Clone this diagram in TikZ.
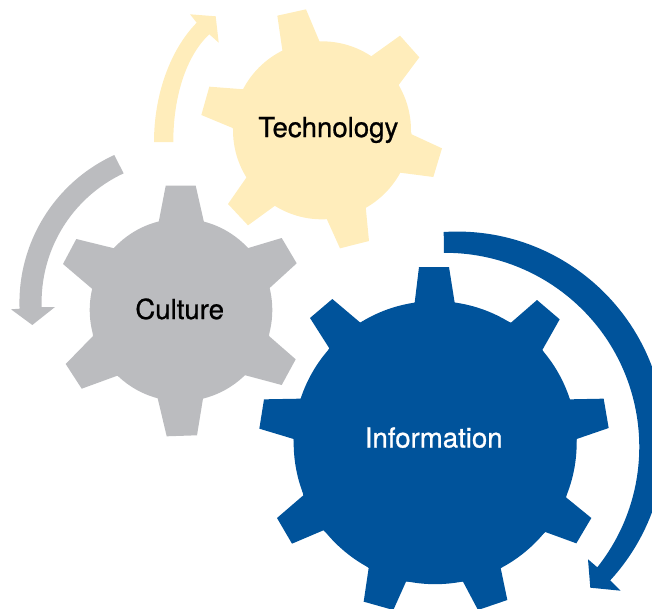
\documentclass[tikz,border=0pt]{standalone}
\usepackage{fontspec}
\setmainfont{TeX Gyre Heros}
\newfontfamily\gearfont[FakeBold=0.8]{TeX Gyre Heros}
\definecolor{gearblue}{RGB}{0,83,155}
\definecolor{gearyellow}{RGB}{255,237,187}
\definecolor{geargray}{RGB}{187,188,191}
\tikzset{
  gearlabel/.style={font=\gearfont\fontsize{27.6}{32}\selectfont, inner sep=0pt, anchor=base},
  zoomed/.style={x=0.33333pt,y=-0.33333pt}
}
\begin{document}
\begin{tikzpicture}[x=1pt,y=-1pt]
\useasboundingbox (0,0) rectangle (652,608);
\clip (0,0) rectangle (652,608);
% Technology gear
\begin{scope}[zoomed]
\fill[gearyellow] (966,391) circle[radius=89pt];
\fill[gearyellow] (848,157) -- (832,47) -- (918,28) -- (960,128)
  -- (1112,170) -- (1200,107) -- (1258,172) -- (1196,255)
  -- (1235,403) -- (1326,445) -- (1300,531) -- (1200,518)
  -- (1097,620) -- (1107,723) -- (1020,745) -- (978,652)
  -- (828,615) -- (744,676) -- (684,612) -- (741,530)
  -- (698,384) -- (604,345) -- (628,260) -- (732,268) -- cycle;
\end{scope}
% Culture gear
\fill[geargray] (181,310) circle[radius=91.3pt];
\fill[geargray] (158.3,224) -- (165.7,185.7) -- (195.7,185.7) -- (204.7,225.3)
  -- (246,248.7) -- (281.7,238) -- (296.7,263.3) -- (269.3,288.3)
  -- (269,336) -- (295.7,359.3) -- (281.7,385) -- (244.3,375)
  -- (203.3,396.7) -- (197,435.3) -- (166.7,436.3) -- (157.3,396.7)
  -- (117.3,375.7) -- (81.7,388.7) -- (65.7,364) -- (93,336)
  -- (92,288.7) -- (63,264) -- (76.3,239) -- (115.7,248.7) -- cycle;
% Information gear
\begin{scope}[shift={(250,220)},zoomed]
\fill[gearblue] (555.5,668) circle[radius=141.5pt];
\fill[gearblue] (494,248) -- (507,141) -- (597,141) -- (614,248)
  -- (783,308) -- (861,240) -- (929,298) -- (877,390)
  -- (959,538) -- (1061,536) -- (1076,624) -- (980,657)
  -- (948,832) -- (1024,894) -- (979,970) -- (886,936)
  -- (752,1044) -- (772,1140) -- (684,1170) -- (639,1085)
  -- (468,1085) -- (430,1170) -- (341,1145) -- (356,1044)
  -- (220,931) -- (126,971) -- (81,894) -- (160,826)
  -- (131,657) -- (28,626) -- (42,538) -- (152,536)
  -- (238,385) -- (180,294) -- (247,237) -- (331,308) -- cycle;
\end{scope}
% Arrows
\fill[gearyellow] (154,142) .. controls (154,95) and (170,50) .. (196.7,22.7)
  -- (190,14.3) -- (215.7,16.3) -- (218.7,42.7) -- (209.3,34.3)
  .. controls (187,55) and (173.3,95) .. (173.3,142) -- cycle;
\fill[geargray] (114.3,155) arc[start angle=114.6,end angle=182.1,radius=162.5pt]
  -- (11,309.3) -- (32.3,325) -- (55,307) -- (41.7,307)
  arc[start angle=182,end angle=115,radius=142pt] -- cycle;
\fill[gearblue] (443.7,232) arc[start angle=93.7,end angle=-42.7,radius=208pt]
  -- (611,581) -- (620.7,590.7) -- (590.3,587.7) -- (588,559.3) -- (597.3,567.3)
  arc[start angle=-38.4,end angle=90.4,radius=194pt] -- cycle;
% Labels
\node[gearlabel,text=black] (tech) at (328.3,137) {Technology};
\node[gearlabel,text=black] (cult) at (179.7,319) {Culture};
\node[gearlabel,text=white] (info) at (433.7,447.5) {Information};
\end{tikzpicture}
\end{document}
